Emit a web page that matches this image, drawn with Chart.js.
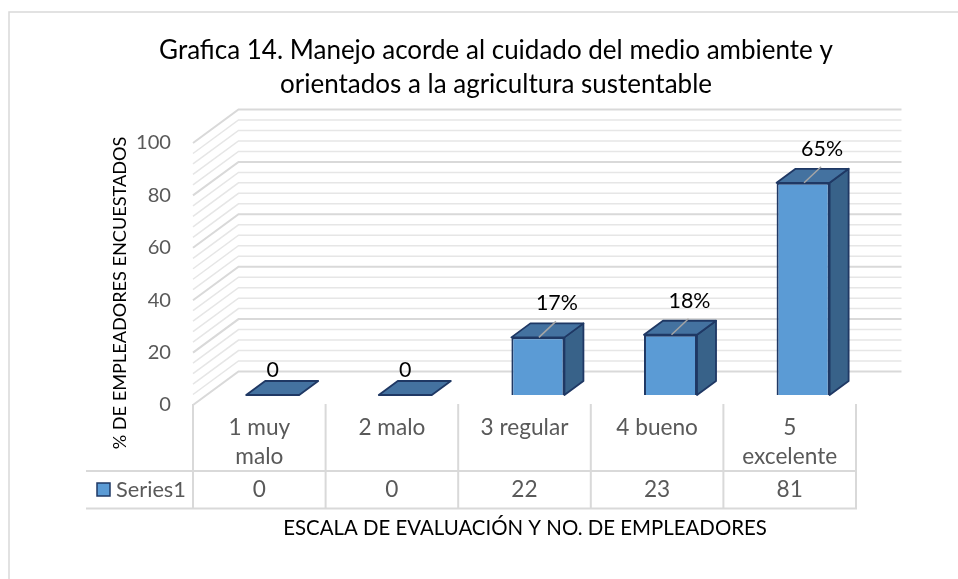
<!DOCTYPE html>
<html><head><meta charset="utf-8">
<script src="https://cdn.jsdelivr.net/npm/chart.js@4.4.1/dist/chart.umd.min.js"></script>
<style>html,body{margin:0;padding:0;background:#fff;}canvas{display:block}</style>
</head><body>
<canvas id="c" width="958" height="579"></canvas>
<script>
// ---- data ----
const titleLines = ["Grafica 14. Manejo acorde al cuidado del medio ambiente y", "orientados a la agricultura sustentable"];
const categories = [["1 muy", "malo"], "2 malo", "3 regular", "4 bueno", ["5", "excelente"]];
const seriesName = "Series1";
const seriesValues = [0, 0, 22, 23, 81];
const dataLabels = ["0", "0", "17%", "18%", "65%"];
const yTicks = [0, 20, 40, 60, 80, 100];
const yTitle = "% DE EMPLEADORES ENCUESTADOS";
const xTitle = "ESCALA DE EVALUACIÓN Y NO. DE EMPLEADORES";

// ---- style ----
const FAM = "Lato, 'Noto Sans', sans-serif";
const mctx = document.createElement('canvas').getContext('2d');
function fit(text, w) { mctx.font = "100px " + FAM; return 100 * w / mctx.measureText(text).width; }
const S = {
  title: fit(titleLines[0], 674),
  tick: fit("100", 35),
  yTitle: fit(yTitle, 313),
  cat: fit("excelente", 95),
  label: fit("65%", 42),
  xTitle: fit(xTitle, 484),
  series: fit("Series1", 70)
};
const G = { wallDx: 45.5, wallDy: -33.5, barDx: 13.4, barDy: -10, depDx: 19, depDy: -14 };
const C = { front: '#5b9bd5', top: '#4472a0', side: '#386289', edge: '#1f3864', grid: '#d9d9d9', minor: '#e6e6e6', text: '#595959' };

const plugin3d = {
  id: 'plugin3d',
  beforeDraw(chart) {
    const ctx = chart.ctx;
    ctx.save();
    ctx.fillStyle = '#fff'; ctx.fillRect(0, 0, chart.width, chart.height);
    ctx.strokeStyle = C.grid; ctx.lineWidth = 1.5;
    ctx.beginPath(); ctx.moveTo(958, 12); ctx.lineTo(9, 12); ctx.lineTo(9, 579); ctx.stroke();
    ctx.restore();
  },
  beforeDatasetsDraw(chart) {
    const ctx = chart.ctx, ys = chart.scales.y, { left, right } = chart.chartArea;
    ctx.save();
    [false, true].forEach(majorPass => {
      for (let v = 0; v <= 100; v += 4) {
        const major = v % 20 === 0;
        if (major !== majorPass) continue;
        const yf = ys.getPixelForValue(v);
        ctx.strokeStyle = major ? C.grid : C.minor;
        ctx.lineWidth = major ? 2 : 1.5;
        ctx.beginPath();
        ctx.moveTo(left, yf);
        ctx.lineTo(left + G.wallDx, yf + G.wallDy);
        ctx.lineTo(right + G.wallDx, yf + G.wallDy);
        ctx.stroke();
      }
    });
    ctx.restore();
    ctx.save();
    ctx.translate(G.barDx, G.barDy);
  },
  afterDatasetsDraw(chart) {
    const ctx = chart.ctx;
    const meta = chart.getDatasetMeta(0);
    ctx.lineJoin = 'round';
    meta.data.forEach((bar, i) => {
      const { x, y, base, width } = bar.getProps(['x', 'y', 'base', 'width'], true);
      const l = x - width / 2, r = x + width / 2;
      ctx.lineWidth = 1.8; ctx.strokeStyle = C.edge;
      if (base - y > 0.5) {
        ctx.beginPath();
        ctx.moveTo(r, y); ctx.lineTo(r + G.depDx, y + G.depDy);
        ctx.lineTo(r + G.depDx, base + G.depDy); ctx.lineTo(r, base); ctx.closePath();
        ctx.fillStyle = C.side; ctx.fill(); ctx.stroke();
      }
      ctx.beginPath();
      ctx.moveTo(l, y); ctx.lineTo(l + G.depDx, y + G.depDy);
      ctx.lineTo(r + G.depDx, y + G.depDy); ctx.lineTo(r, y); ctx.closePath();
      ctx.fillStyle = C.top; ctx.fill(); ctx.stroke();
      ctx.font = S.label + "px " + FAM;
      ctx.fillStyle = '#000'; ctx.textAlign = 'center'; ctx.textBaseline = 'middle';
      if (seriesValues[i] === 0) {
        ctx.fillText(dataLabels[i], x, y - 25);
      } else {
        ctx.strokeStyle = '#a6a6a6'; ctx.lineWidth = 1.5;
        ctx.beginPath(); ctx.moveTo(x + 1, y); ctx.lineTo(x + 18, y - 16); ctx.stroke();
        ctx.fillText(dataLabels[i], x + 19, y - 34);
      }
    });
    ctx.restore();
  },
  afterDraw(chart) {
    const ctx = chart.ctx, xs = chart.scales.x, { left, right } = chart.chartArea;
    const n = categories.length, colW = (right - left) / n;
    ctx.save();
    ctx.strokeStyle = C.grid; ctx.lineWidth = 2;
    ctx.beginPath();
    for (let k = 0; k <= n; k++) {
      const X = (k < n ? xs.getPixelForValue(k) - colW / 2 : xs.getPixelForValue(n - 1) + colW / 2);
      ctx.moveTo(X, 404); ctx.lineTo(X, 509);
    }
    ctx.moveTo(86, 471); ctx.lineTo(right + 1, 471);
    ctx.moveTo(86, 508.5); ctx.lineTo(right + 1, 508.5);
    ctx.stroke();
    ctx.font = S.cat + "px " + FAM; ctx.fillStyle = C.text;
    ctx.textAlign = 'center'; ctx.textBaseline = 'middle';
    seriesValues.forEach((v, i) => ctx.fillText(String(v), xs.getPixelForValue(i), 489.5));
    ctx.fillStyle = C.front; ctx.fillRect(97, 483, 13, 13);
    ctx.strokeStyle = C.edge; ctx.lineWidth = 1.5; ctx.strokeRect(97, 483, 13, 13);
    ctx.font = S.series + "px " + FAM; ctx.fillStyle = C.text; ctx.textAlign = 'left';
    ctx.fillText(seriesName, 116, 489.5);
    ctx.fillStyle = '#000'; ctx.textAlign = 'center'; ctx.textBaseline = 'alphabetic';
    ctx.font = S.title + "px " + FAM;
    ctx.fillText(titleLines[0], 496, 59);
    ctx.fillText(titleLines[1], 496, 93);
    ctx.textBaseline = 'middle';
    ctx.font = S.xTitle + "px " + FAM;
    ctx.fillText(xTitle, 525, 528);
    ctx.save();
    ctx.translate(120.5, 293); ctx.rotate(-Math.PI / 2);
    ctx.font = S.yTitle + "px " + FAM;
    ctx.fillText(yTitle, 0, 0);
    ctx.restore();
    ctx.restore();
  }
};

new Chart(document.getElementById('c'), {
  type: 'bar',
  data: {
    labels: categories,
    datasets: [{
      label: seriesName,
      data: seriesValues,
      backgroundColor: C.front,
      borderColor: C.edge,
      borderWidth: 2,
      barPercentage: 0.8,
      categoryPercentage: 0.5
    }]
  },
  options: {
    responsive: false,
    devicePixelRatio: 1,
    animation: false,
    layout: { padding: { left: 0, top: 143, right: 102, bottom: 0 } },
    plugins: { legend: { display: false }, tooltip: { enabled: false }, title: { display: false } },
    scales: {
      x: {
        grid: { display: false, drawTicks: false },
        border: { display: false },
        ticks: {
          autoSkip: false, maxRotation: 0, minRotation: 0, padding: 8.5,
          color: C.text, font: { family: FAM, size: S.cat, lineHeight: 29 / S.cat }
        },
        afterFit(s) { s.height = 174; }
      },
      y: {
        min: 0, max: 100,
        grid: { display: false, drawTicks: false },
        border: { display: false },
        ticks: { padding: 22, color: C.text, font: { family: FAM, size: S.tick } },
        afterBuildTicks(s) { s.ticks = yTicks.map(v => ({ value: v })); },
        afterFit(s) { s.width = 193; }
      }
    }
  },
  plugins: [plugin3d]
});
</script>
</body></html>
